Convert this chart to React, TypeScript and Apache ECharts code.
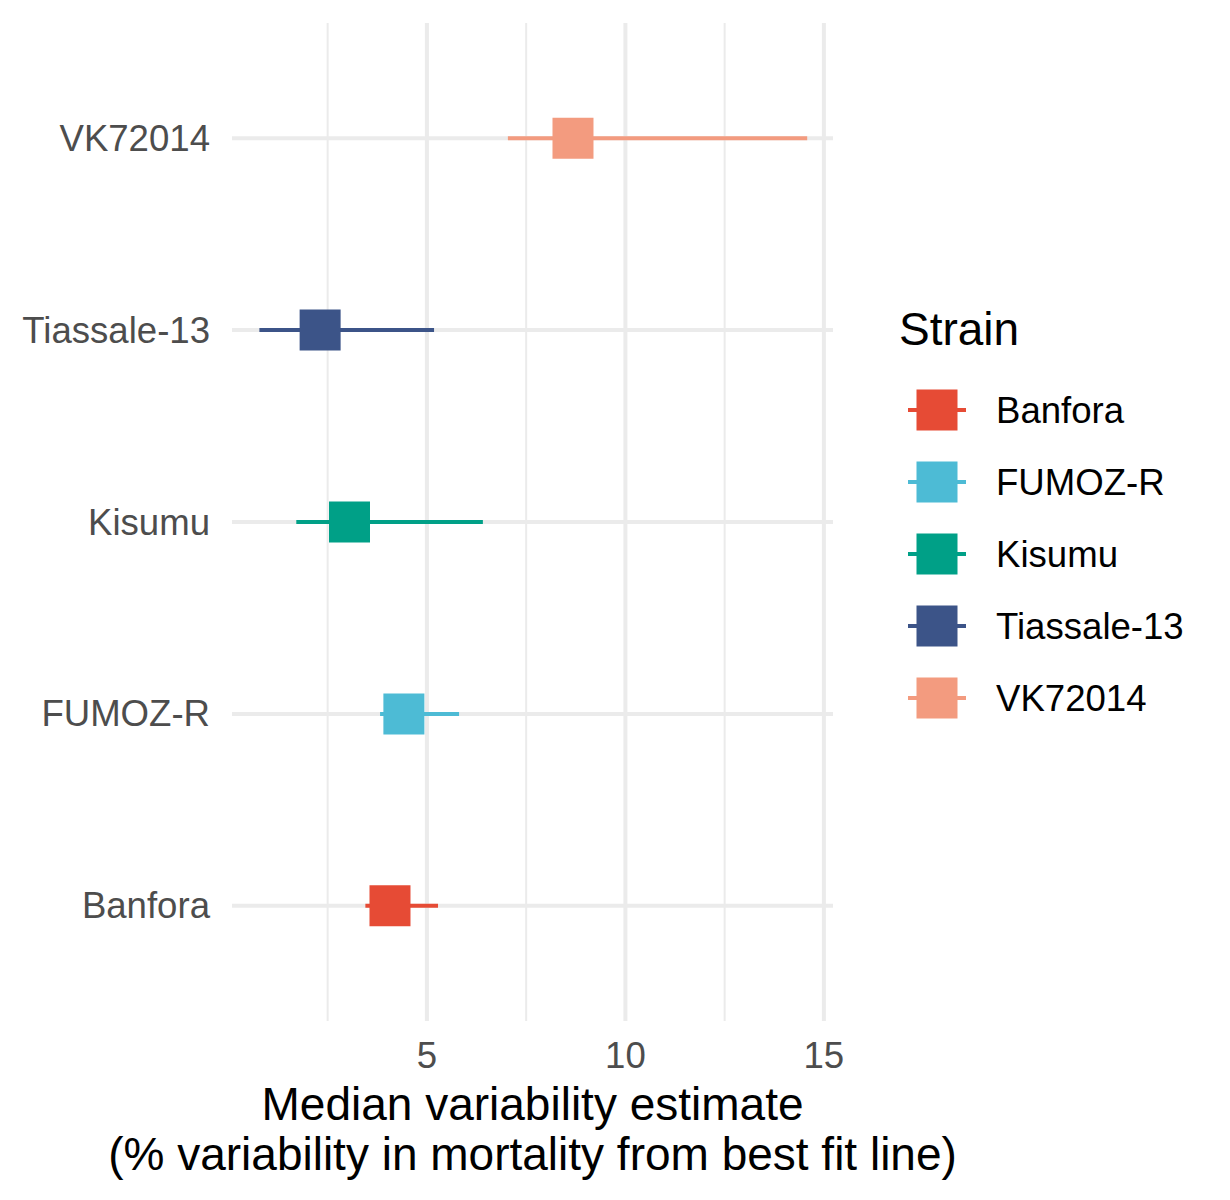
import React, { useEffect, useRef } from "react";
import * as echarts from "echarts";

const categories = ["Banfora", "FUMOZ-R", "Kisumu", "Tiassale-13", "VK72014"];
const medians = [4.07, 4.42, 3.05, 2.31, 8.68];
const lowers = [3.45, 3.82, 1.71, 0.78, 7.04];
const uppers = [5.28, 5.81, 6.41, 5.18, 14.58];
const strainColors = ["#E64B35", "#4DBBD5", "#00A087", "#3C5488", "#F39B7F"];
const majorBreaks = [5, 10, 15];
const minorBreaks = [2.5, 7.5, 12.5];
const xMin = 0.09;
const xMax = 15.23;
const yMin = -0.6;
const yMax = 4.6;

const FONT = "'Liberation Sans', Arial, Helvetica, sans-serif";
const GRID_COLOR = "#EBEBEB";
const ICON =
  "path://M0,18.5H8.5V0H49.5V18.5H58V22.5H49.5V41H8.5V22.5H0Z";

export default function App() {
  const ref = useRef<HTMLDivElement>(null);
  useEffect(() => {
    if (!ref.current) return;
    const chart = echarts.init(ref.current, null, { renderer: "svg" });

    const vLineSeries = (vals: number[], width: number) => ({
      type: "custom",
      silent: true,
      z: 1,
      data: vals.map((v) => [v]),
      encode: { x: 0 },
      renderItem: (params: any, api: any) => {
        const v = api.value(0);
        const a = api.coord([v, yMin]);
        const b = api.coord([v, yMax]);
        return {
          type: "line",
          shape: { x1: a[0], y1: a[1], x2: b[0], y2: b[1] },
          style: { stroke: GRID_COLOR, lineWidth: width },
        };
      },
    });

    const hLineSeries = {
      type: "custom",
      silent: true,
      z: 1,
      data: categories.map((c, i) => [i]),
      encode: { y: 0 },
      renderItem: (params: any, api: any) => {
        const v = api.value(0);
        const a = api.coord([xMin, v]);
        const b = api.coord([xMax, v]);
        return {
          type: "line",
          shape: { x1: a[0], y1: a[1], x2: b[0], y2: b[1] },
          style: { stroke: GRID_COLOR, lineWidth: 4 },
        };
      },
    };

    const strainSeries = categories.map((name, i) => ({
      type: "custom",
      name,
      z: 2,
      itemStyle: { color: strainColors[i] },
      data: [[lowers[i], uppers[i], medians[i], i]],
      encode: { x: [0, 1, 2], y: 3 },
      renderItem: (params: any, api: any) => {
        const yv = api.value(3);
        const lo = api.coord([api.value(0), yv]);
        const hi = api.coord([api.value(1), yv]);
        const mid = api.coord([api.value(2), yv]);
        const color = strainColors[i];
        return {
          type: "group",
          children: [
            {
              type: "line",
              shape: { x1: lo[0], y1: lo[1], x2: hi[0], y2: hi[1] },
              style: { stroke: color, lineWidth: 4 },
            },
            {
              type: "rect",
              shape: { x: mid[0] - 20.5, y: mid[1] - 20.5, width: 41, height: 41 },
              style: { fill: color },
            },
          ],
        };
      },
    }));

    chart.setOption({
      animation: false,
      backgroundColor: "#FFFFFF",
      textStyle: { fontFamily: FONT },
      title: {
        text: "Strain",
        left: 899,
        top: 306,
        padding: 0,
        textStyle: { fontFamily: FONT, fontSize: 46, fontWeight: "normal", color: "#000000" },
      },
      legend: {
        orient: "vertical",
        left: 903,
        top: 384.5,
        padding: 5,
        itemWidth: 58,
        itemHeight: 41,
        itemGap: 31,
        data: categories.map((n) => ({ name: n, icon: ICON })),
        itemStyle: { borderWidth: 0 },
        textStyle: {
          fontFamily: FONT,
          fontSize: 36.6,
          color: "#000000",
          padding: [0, 0, 0, 25],
        },
        selectedMode: false,
      },
      grid: {
        left: 232,
        right: 397,
        top: 23,
        bottom: 179,
        containLabel: false,
        outerBoundsMode: "none",
      },
      xAxis: {
        type: "value",
        min: xMin,
        max: xMax,
        axisLine: { show: false },
        axisTick: { show: false },
        splitLine: { show: false },
        axisLabel: {
          customValues: majorBreaks,
          fontFamily: FONT,
          fontSize: 36.6,
          color: "#4D4D4D",
          margin: 16,
        },
        name: "Median variability estimate\n(% variability in mortality from best fit line)",
        nameLocation: "middle",
        nameGap: 56,
        nameTextStyle: {
          fontFamily: FONT,
          fontSize: 46,
          color: "#000000",
          lineHeight: 50,
        },
      },
      yAxis: {
        type: "value",
        min: yMin,
        max: yMax,
        axisLine: { show: false },
        axisTick: { show: false },
        splitLine: { show: false },
        axisLabel: {
          customValues: categories.map((c, i) => i),
          formatter: (v: number) => categories[Math.round(v)] ?? "",
          fontFamily: FONT,
          fontSize: 36.6,
          color: "#4D4D4D",
          margin: 22,
        },
      },
      series: [
        vLineSeries(minorBreaks, 2),
        vLineSeries(majorBreaks, 4),
        hLineSeries,
        ...strainSeries,
      ],
    });

    return () => chart.dispose();
  }, []);

  return (
    <div
      ref={ref}
      style={{ position: "absolute", left: 0, top: 0, width: 1230, height: 1200 }}
    />
  );
}
